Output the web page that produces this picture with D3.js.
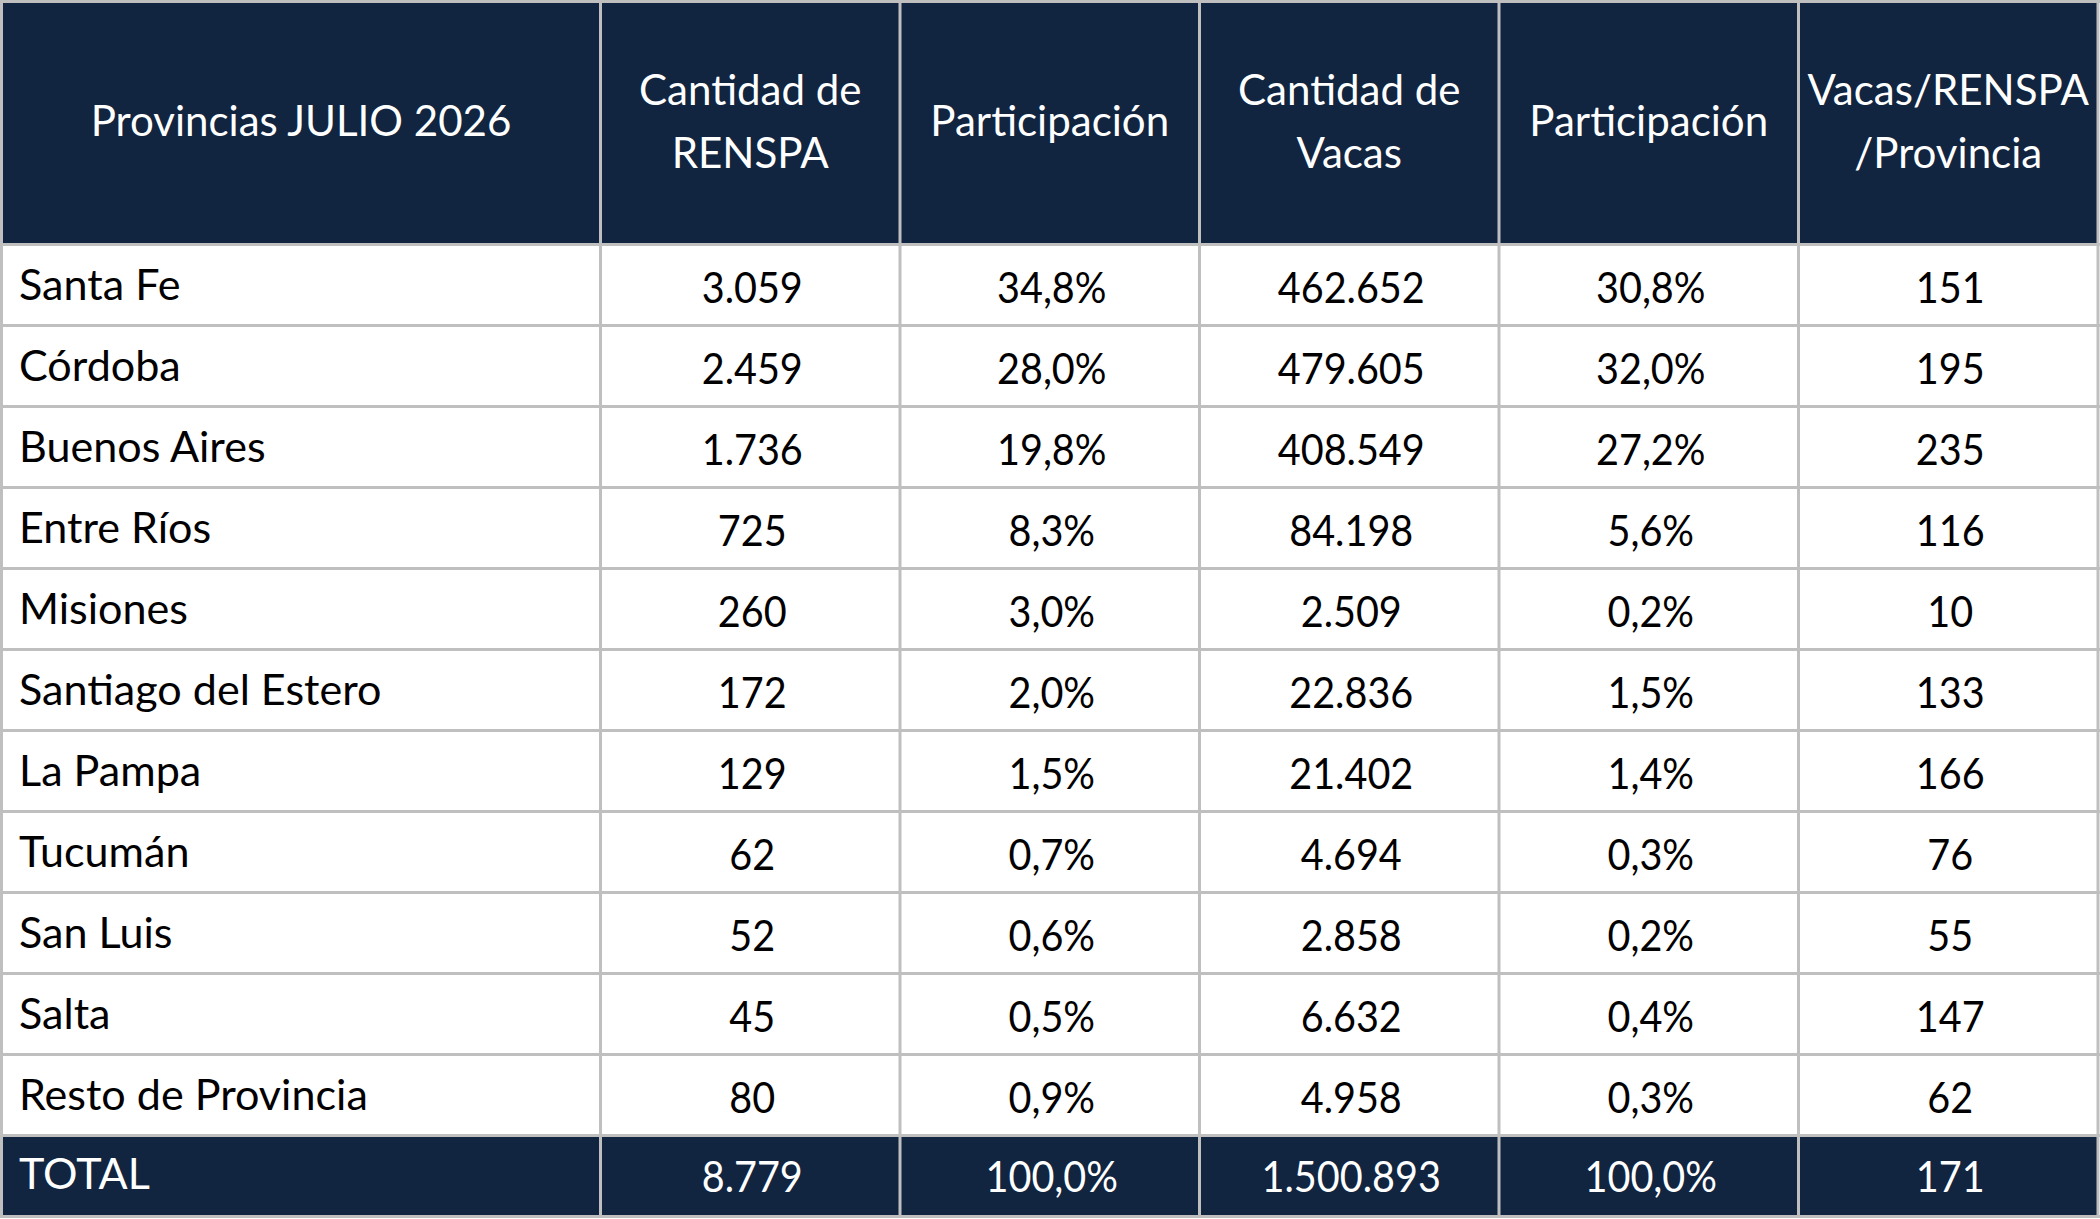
<!DOCTYPE html>
<html>
<head>
<meta charset="utf-8">
<script src="https://cdn.jsdelivr.net/npm/d3@7"></script>
<style>
  body { margin: 0; background: #ffffff; }
  svg { display: block; }
</style>
</head>
<body>
<div class="tabla"></div>
<script>
const provincias = ['Santa Fe', 'Córdoba', 'Buenos Aires', 'Entre Ríos', 'Misiones',
  'Santiago del Estero', 'La Pampa', 'Tucumán', 'San Luis', 'Salta', 'Resto de Provincia'];
const renspa = [3059, 2459, 1736, 725, 260, 172, 129, 62, 52, 45, 80];
const partRenspa = [34.8, 28.0, 19.8, 8.3, 3.0, 2.0, 1.5, 0.7, 0.6, 0.5, 0.9];
const vacas = [462652, 479605, 408549, 84198, 2509, 22836, 21402, 4694, 2858, 6632, 4958];
const partVacas = [30.8, 32.0, 27.2, 5.6, 0.2, 1.5, 1.4, 0.3, 0.2, 0.4, 0.3];
const vacasPorRenspa = [151, 195, 235, 116, 10, 133, 166, 76, 55, 147, 62];
const totalLabel = 'TOTAL';
const totales = [8779, 100.0, 1500893, 100.0, 171];
const encabezados = [
  ['Provincias JULIO 2026'],
  ['Cantidad de', 'RENSPA'],
  ['Participación'],
  ['Cantidad de', 'Vacas'],
  ['Participación'],
  ['Vacas/RENSPA', '/Provincia']
];

// Layout
const width = 2100;
const height = 1219;
const colUnits = [2, 1, 1, 1, 1, 1];   // first column is twice as wide
const headerUnits = 3;                 // header is three rows tall
const navy = '#112440';
const gridColor = '#bfbfbf';
const FONT = 'Lato, Carlito, "Open Sans", sans-serif';
const fontSize = 42;

// Spanish number format: 1.500.893 and 34,8%
const es = d3.formatLocale({ decimal: ',', thousands: '.', grouping: [3], currency: ['$', ''] });
const fmtInt = es.format(',d');
const fmtPct = v => es.format('.1f')(v) + '%';

const formatters = [fmtInt, fmtPct, fmtInt, fmtPct, fmtInt];
const columnas = [renspa, partRenspa, vacas, partVacas, vacasPorRenspa];

const filas = provincias.map((p, i) => ({
  label: p,
  values: columnas.map((c, j) => formatters[j](c[i])),
  total: false
}));
filas.push({ label: totalLabel, values: totales.map((v, j) => formatters[j](v)), total: true });

// Scales (in layout units)
const colEdges = d3.cumsum([0].concat(colUnits));
const x = d3.scaleLinear()
  .domain([0, d3.sum(colUnits)])
  .range([1.5, 2098]);

const y = d3.scaleLinear()
  .domain([0, headerUnits + filas.length])
  .range([1.5, 1216.5]);

const svg = d3.select('.tabla')
  .append('svg')
  .attr('width', width)
  .attr('height', height);

svg.append('rect')
  .attr('width', width)
  .attr('height', height)
  .attr('fill', '#ffffff');

// Horizontal squeeze so the substitute font matches Calibri widths
const probe = svg.append('text')
  .attr('font-family', FONT)
  .attr('font-size', fontSize)
  .text('Santa Fe');
const sx = 156 / probe.node().getComputedTextLength();
probe.remove();
const sxLabel = sx * 1.035;   // letters run a bit wider in Calibri
const sxNum = sx * 0.95;      // Lato digits are wider than Calibri's
const sxHead = sx * 1.01;

// Header cells
svg.append('rect')
  .attr('x', x(0))
  .attr('y', y(0))
  .attr('width', x(d3.sum(colUnits)) - x(0))
  .attr('height', y(headerUnits) - y(0))
  .attr('fill', navy);

// Total row cells
svg.append('rect')
  .attr('x', x(0))
  .attr('y', y(headerUnits + filas.length - 1))
  .attr('width', x(d3.sum(colUnits)) - x(0))
  .attr('height', y(headerUnits + filas.length) - y(headerUnits + filas.length - 1))
  .attr('fill', navy);

// Grid lines
const rowEdges = [0].concat(d3.range(headerUnits, headerUnits + filas.length + 1));
svg.append('g')
  .selectAll('line')
  .data(rowEdges)
  .enter()
  .append('line')
  .attr('x1', 0)
  .attr('x2', width)
  .attr('y1', d => y(d))
  .attr('y2', d => y(d))
  .attr('stroke', gridColor)
  .attr('stroke-width', 3);

svg.append('g')
  .selectAll('line')
  .data(colEdges)
  .enter()
  .append('line')
  .attr('x1', d => x(d))
  .attr('x2', d => x(d))
  .attr('y1', 0)
  .attr('y2', y(headerUnits + filas.length) + 1.5)
  .attr('stroke', gridColor)
  .attr('stroke-width', 3);

// Header text
const colCenter = j => (x(colEdges[j]) + x(colEdges[j + 1])) / 2;
const headerMid = 136;
const lineGap = 63;

const headerG = svg.append('g');
encabezados.forEach((lines, j) => {
  lines.forEach((t, k) => {
    const by = headerMid + (k - (lines.length - 1) / 2) * lineGap;
    headerG.append('text')
      .attr('transform', `translate(${colCenter(j)},${by}) scale(${sxHead},1)`)
      .attr('text-anchor', 'middle')
      .attr('font-family', FONT)
      .attr('font-size', fontSize)
      .attr('fill', '#ffffff')
      .text(t);
  });
});

// Body rows
const rows = svg.append('g')
  .selectAll('.fila')
  .data(filas)
  .enter()
  .append('g')
  .attr('class', 'fila')
  .attr('transform', (d, i) => `translate(0,${y(headerUnits + i)})`);

rows.append('text')
  .attr('transform', d => `translate(19,${d.total ? 53 : 55}) scale(${sxLabel},1)`)
  .attr('font-family', FONT)
  .attr('font-size', fontSize)
  .attr('fill', d => d.total ? '#ffffff' : '#000000')
  .text(d => d.label);

rows.each(function(d) {
  d3.select(this).selectAll('.valor')
    .data(d.values)
    .enter()
    .append('text')
    .attr('class', 'valor')
    .attr('transform', (v, j) => `translate(${colCenter(j + 1) + 2},${d.total ? 56.5 : 58.5}) scale(${sxNum},1)`)
    .attr('text-anchor', 'middle')
    .attr('font-family', FONT)
    .attr('font-size', fontSize)
    .attr('fill', d.total ? '#ffffff' : '#000000')
    .text(v => v);
});
</script>
</body>
</html>
